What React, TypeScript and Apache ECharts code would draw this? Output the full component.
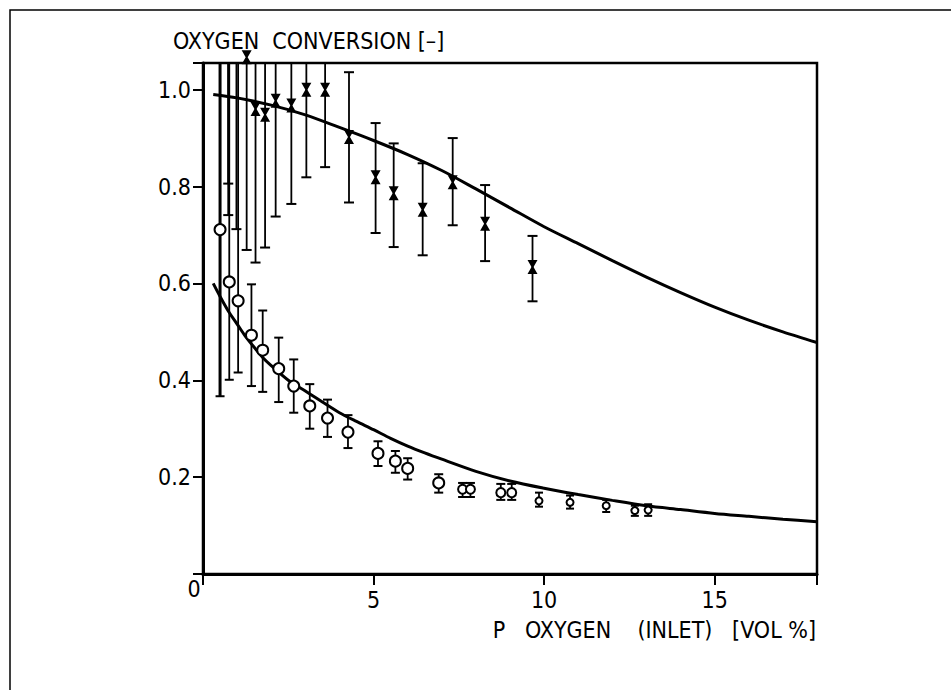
import React, { useEffect, useRef } from "react";
import * as echarts from "echarts";

// ---------- data ----------
const xTicks = [0, 5, 10, 15];
const yTicks = [0, 0.2, 0.4, 0.6, 0.8, 1.0];

// crosses (x marker) with error bars; null = centre off the chart, only the bar is visible
const crossX = [0.74, 0.74, 0.98, 1.28, 1.54, 1.82, 2.13, 2.59, 3.03, 3.58, 4.28, 5.06, 5.59, 6.44, 7.32, 8.27, 9.66];
const crossY = [null, null, null, 1.067, 0.96, 0.948, 0.977, 0.967, 1.0, 1.0, 0.902, 0.819, 0.786, 0.752, 0.809, 0.723, 0.634];
const crossHigh = [1.2, 1.2, 1.2, 1.2, 1.2, 1.2, 1.2, 1.2, 1.2, 1.2, 1.036, 0.931, 0.889, 0.848, 0.9, 0.803, 0.698];
const crossLow = [0.806, 0.741, 0.712, 0.669, 0.643, 0.674, 0.738, 0.764, 0.819, 0.84, 0.767, 0.704, 0.675, 0.658, 0.72, 0.646, 0.563];

// circles with error bars
const circleX = [0.5, 0.77, 1.03, 1.42, 1.75, 2.22, 2.66, 3.13, 3.65, 4.25, 5.13, 5.64, 6.0, 6.91, 7.61, 7.84, 8.73, 9.05, 9.85, 10.76, 11.82, 12.66, 13.05];
const circleY = [0.711, 0.603, 0.564, 0.493, 0.462, 0.424, 0.388, 0.347, 0.322, 0.293, 0.249, 0.233, 0.218, 0.188, 0.175, 0.175, 0.168, 0.168, 0.151, 0.148, 0.141, 0.131, 0.132];
const circleHigh = [1.2, 1.2, 1.2, 0.598, 0.544, 0.488, 0.443, 0.392, 0.36, 0.328, 0.274, 0.254, 0.239, 0.206, 0.188, 0.188, 0.186, 0.186, 0.168, 0.162, 0.153, 0.141, 0.144];
const circleLow = [0.367, 0.401, 0.416, 0.388, 0.376, 0.355, 0.333, 0.3, 0.283, 0.26, 0.223, 0.209, 0.195, 0.168, 0.159, 0.159, 0.153, 0.153, 0.139, 0.135, 0.128, 0.12, 0.12];

// model curves
const upperCurveX = [0.3, 1, 2, 3, 4, 5, 6, 7, 8, 9, 10, 11, 12, 13, 14, 15, 16, 17, 18];
const upperCurveY = [0.99, 0.983, 0.968, 0.948, 0.922, 0.895, 0.866, 0.833, 0.795, 0.756, 0.717, 0.682, 0.647, 0.613, 0.581, 0.551, 0.524, 0.5, 0.478];
const lowerCurveX = [0.3, 0.5, 0.75, 1, 1.25, 1.5, 1.75, 2, 2.5, 3, 3.5, 4, 4.5, 5, 5.5, 6, 6.5, 7, 8, 9, 10, 11, 12, 13, 14, 15, 16, 17, 18];
const lowerCurveY = [0.6, 0.573, 0.542, 0.516, 0.49, 0.468, 0.447, 0.43, 0.4, 0.378, 0.355, 0.333, 0.315, 0.298, 0.28, 0.264, 0.25, 0.237, 0.212, 0.192, 0.177, 0.164, 0.152, 0.141, 0.133, 0.125, 0.119, 0.113, 0.108];

const xTitle = "P   OXYGEN    (INLET)   [VOL %]";
const yTitle = "OXYGEN  CONVERSION [–]";

const X_MAX = 18;
const Y_MAX = 1.055;
const FONT = '"DejaVu Sans Condensed", "DejaVu Sans", sans-serif';
const FS = 23;

export default function App() {
  const ref = useRef<HTMLDivElement>(null);
  useEffect(() => {
    if (!ref.current) return;
    const chart = echarts.init(ref.current, null, { renderer: "svg" });

    const crossData = crossX.map((x, i) => [x, crossLow[i], crossHigh[i], crossY[i] === null ? NaN : crossY[i]]);
    const circleData = circleX.map((x, i) => [x, circleLow[i], circleHigh[i], circleY[i]]);

    const makeRender = (kind: "cross" | "circle") => (params: any, api: any) => {
      const x = api.value(0);
      const lo = api.value(1);
      const hi = Math.min(api.value(2), Y_MAX);
      const y = api.value(3);
      const pTop = api.coord([x, hi]);
      const pBot = api.coord([x, lo]);
      const cap = kind === "cross" ? 5 : x > 9.5 ? 4 : 4.5;
      const barW = kind === "circle" && params.dataIndex === 0 ? 3 : 1.8;
      const children: any[] = [
        { type: "line", shape: { x1: pTop[0], y1: pTop[1], x2: pBot[0], y2: pBot[1] }, style: { stroke: "#000", lineWidth: barW } },
        { type: "line", shape: { x1: pBot[0] - cap, y1: pBot[1], x2: pBot[0] + cap, y2: pBot[1] }, style: { stroke: "#000", lineWidth: 2 } },
      ];
      if (api.value(2) <= Y_MAX) {
        children.push({ type: "line", shape: { x1: pTop[0] - cap, y1: pTop[1], x2: pTop[0] + cap, y2: pTop[1] }, style: { stroke: "#000", lineWidth: 2 } });
      }
      if (!isNaN(y)) {
        const c = api.coord([x, y]);
        if (kind === "cross") {
          children.push({
            type: "polygon",
            shape: { points: [[c[0] - 5, c[1] - 7], [c[0] + 5, c[1] - 7], [c[0] + 1, c[1]], [c[0] + 5, c[1] + 7], [c[0] - 5, c[1] + 7], [c[0] - 1, c[1]]] },
            style: { fill: "#000" },
          });
        } else {
          const r = x < 7 ? 5.5 : x < 9.5 ? 4.5 : 3.5;
          children.push({ type: "circle", shape: { cx: c[0], cy: c[1], r }, style: { fill: "#fff", stroke: "#000", lineWidth: 2 } });
        }
      }
      return { type: "group", children };
    };

    const option: any = {
      animation: false,
      backgroundColor: "#fff",
      grid: { left: 203, top: 63, width: 614, height: 511, show: true, borderColor: "#000", borderWidth: 2.5, backgroundColor: "transparent" },
      xAxis: {
        type: "value",
        min: 0,
        max: X_MAX,
        interval: 5,
        axisLine: { show: true, onZero: false, lineStyle: { color: "#000", width: 3 } },
        axisTick: { show: true, inside: false, length: 11, lineStyle: { color: "#000", width: 2 } },
        axisLabel: {
          margin: 14,
          color: "#000",
          fontFamily: FONT,
          fontSize: FS,
          formatter: (v: number) => (xTicks.includes(v) && v !== 0 ? String(v) : ""),
        },
        splitLine: { show: false },
      },
      yAxis: {
        type: "value",
        min: 0,
        max: Y_MAX,
        interval: 0.2,
        axisLine: { show: true, onZero: false, lineStyle: { color: "#000", width: 3 } },
        axisTick: { show: true, inside: false, length: 10, lineStyle: { color: "#000", width: 2 } },
        axisLabel: {
          margin: 12,
          color: "#000",
          fontFamily: FONT,
          fontSize: FS,
          formatter: (v: number) => {
            const t = yTicks.find((k) => Math.abs(k - v) < 1e-6);
            return t === undefined || t === 0 ? "" : t.toFixed(1);
          },
        },
        splitLine: { show: false },
      },
      graphic: [
        { type: "rect", shape: { x: 10, y: 10, width: 1000, height: 1000 }, style: { fill: "none", stroke: "#000", lineWidth: 1.5 }, silent: true },
        { type: "text", x: 173, y: 41, style: { text: yTitle, font: `${FS}px ${FONT}`, fill: "#000", textAlign: "left", textVerticalAlign: "middle" } },
        { type: "text", x: 816, y: 630, style: { text: xTitle, font: `${FS}px ${FONT}`, fill: "#000", textAlign: "right", textVerticalAlign: "middle" } },
        { type: "text", x: 194, y: 589, style: { text: String(xTicks[0]), font: `${FS}px ${FONT}`, fill: "#000", textAlign: "center", textVerticalAlign: "middle" } },
      ],
      series: [
        {
          type: "line",
          data: upperCurveX.map((x, i) => [x, upperCurveY[i]]),
          smooth: 0.3,
          symbol: "none",
          lineStyle: { color: "#000", width: 3 },
          z: 2,
        },
        {
          type: "line",
          data: lowerCurveX.map((x, i) => [x, lowerCurveY[i]]),
          smooth: 0.3,
          symbol: "none",
          lineStyle: { color: "#000", width: 3 },
          z: 2,
        },
        {
          type: "custom",
          data: circleData,
          encode: { x: 0, y: 1 },
          clip: false,
          renderItem: makeRender("circle"),
          z: 3,
        },
        {
          type: "custom",
          data: crossData,
          encode: { x: 0, y: 1 },
          clip: false,
          renderItem: makeRender("cross"),
          z: 4,
        },
      ],
    };
    chart.setOption(option);
    return () => chart.dispose();
  }, []);

  return <div ref={ref} style={{ position: "fixed", left: 0, top: 0, width: 951, height: 690, background: "#fff" }} />;
}
